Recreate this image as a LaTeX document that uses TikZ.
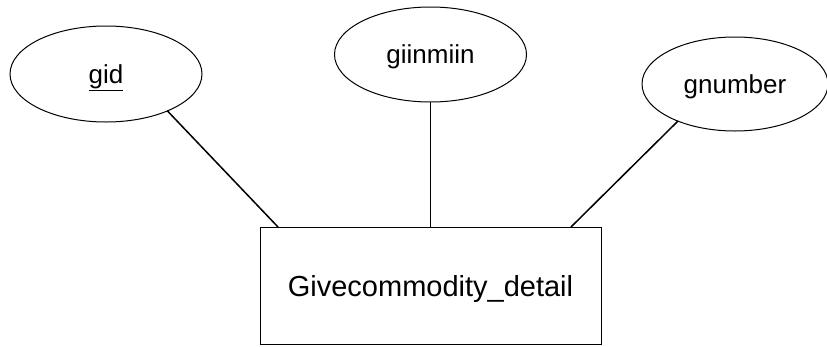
\documentclass[tikz,border=0pt]{standalone}
\usepackage{fontspec}
\setmainfont{Liberation Sans}
\usetikzlibrary{shapes.geometric}

\tikzset{
    attr/.style={draw, ellipse, line width=1pt, inner sep=0pt, outer sep=0pt,
        text depth=0pt, font=\fontsize{26}{30}\selectfont},
    entity/.style={draw, rectangle, line width=1pt, inner sep=0pt, outer sep=0pt,
        text depth=0pt, font=\fontsize{29}{34}\selectfont},
    link/.style={line width=1.5pt}
}

\begin{document}
\begin{tikzpicture}[x=1pt, y=-1pt]
        % Cadre de la figure
        \useasboundingbox (0,0) rectangle (827,346);

        % Entité
        \node[entity, minimum width=341pt, minimum height=117pt] (box) at (430.5,285.5) {Givecommodity\_detail};

        % Attributs
        \node[attr, minimum width=192pt, minimum height=96pt] (gid) at (106,74) {\underline{gid}};
        \node[attr, minimum width=192pt, minimum height=95pt] (giin) at (430.5,54.5) {giinmiin};
        \node[attr, minimum width=186pt, minimum height=94pt] (gnum) at (735,84) {gnumber};

        % Points d'arrivée sur le haut du rectangle
        \coordinate (boxL) at (278,227);
        \coordinate (boxR) at (571,227);

        % Liens attribut -- entité
        \draw[link] (gid.-31) -- (boxL);
        \draw[link] (giin.south) -- (box.north);
        \draw[link] (gnum.213) -- (boxR);
    \end{tikzpicture}
\end{document}
